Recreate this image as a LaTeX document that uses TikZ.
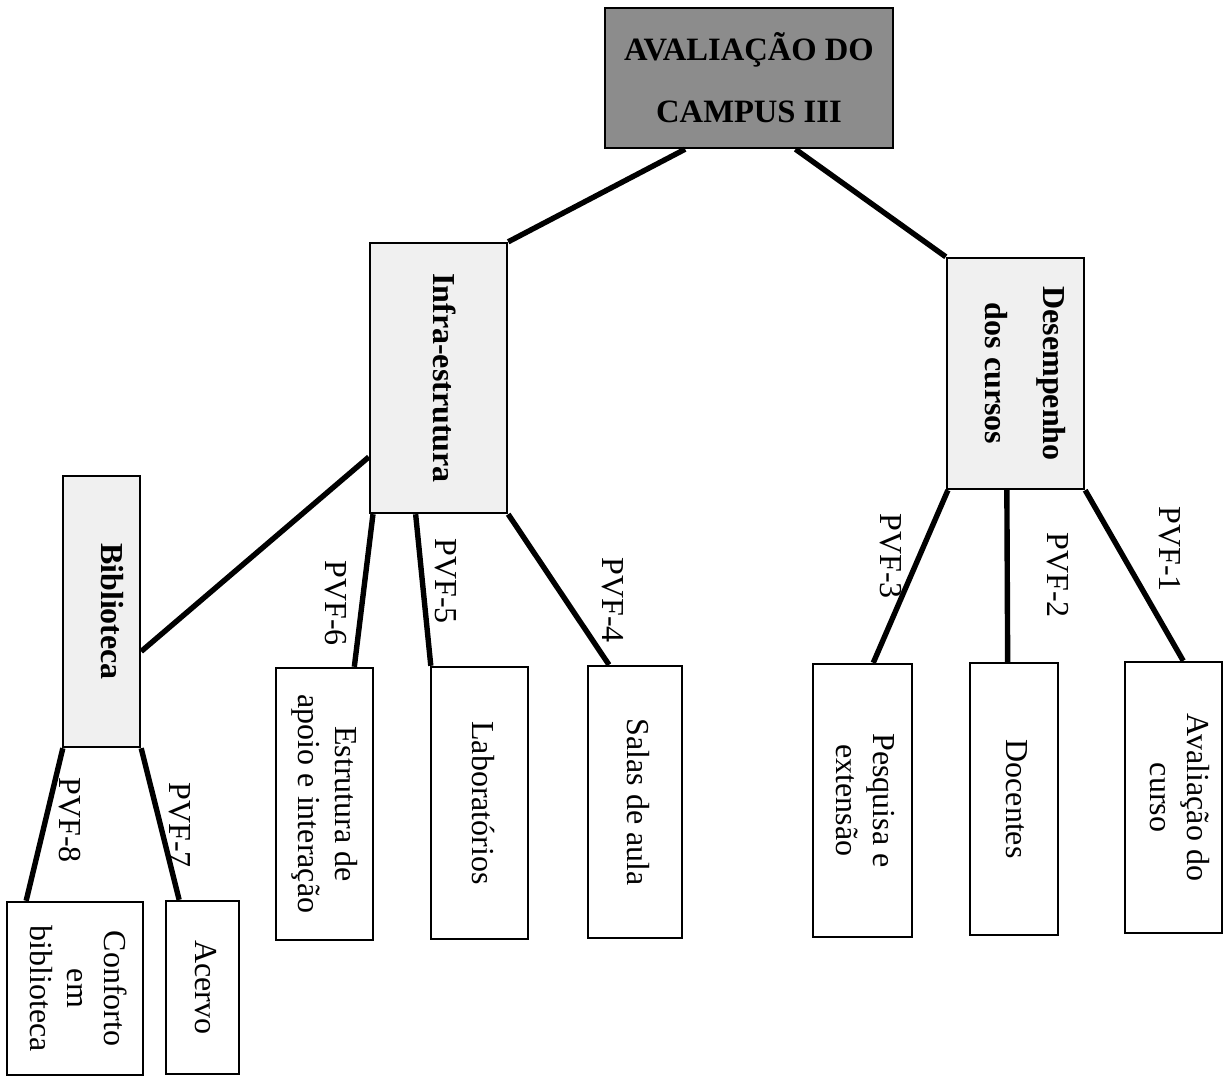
\documentclass[tikz,border=0pt]{standalone}
\usepackage{fontspec}
\setmainfont{Liberation Serif}
\usepackage{graphicx}
\usetikzlibrary{calc}
\newcommand{\rtxt}[1]{\rotatebox{-90}{\begin{tabular}{@{}c@{}}#1\end{tabular}}}
\begin{document}
\begin{tikzpicture}[x=0.5pt,y=-0.5pt,
  boxbase/.style={draw=black, line width=1.2pt, inner sep=0pt, rectangle},
  rootbox/.style={boxbase, fill=black!45, font=\bfseries\fontsize{16.3}{30}\selectfont, align=center},
  midbox/.style={boxbase, fill=black!6, font=\bfseries\fontsize{16}{29}\selectfont},
  leafbox/.style={boxbase, fill=white, font=\fontsize{16}{18.5}\selectfont},
  conn/.style={line width=2.7pt},
  pvf/.style={rotate=-90, font=\fontsize{16}{18}\selectfont, inner sep=0pt}]
\useasboundingbox (0,0) rectangle (1228,1078);

% root
\node[rootbox, minimum width=144pt, minimum height=70pt] (root) at (749,78)
  {\raisebox{1pt}{AVALIAÇÃO DO}\\CAMPUS III};

% second level
\node[midbox, minimum width=68.5pt, minimum height=135pt] (infra) at (438.5,378)
  {\hspace*{3.5pt}\rtxt{Infra-estrutura}\hspace*{-3.5pt}};
\node[midbox, minimum width=68.5pt, minimum height=115.5pt] (desemp) at (1015.5,373.5)
  {\hspace*{5.5pt}\rtxt{Desempenho\\dos cursos}\hspace*{-5.5pt}};
\node[midbox, minimum width=38.5pt, minimum height=135.5pt] (biblio) at (101.5,611.5)
  {\hspace*{6pt}\rtxt{Biblioteca}\hspace*{-6pt}};

% leaves
\node[leafbox, minimum width=48.5pt, minimum height=136pt] (estr) at (324.5,804)
  {\rtxt{Estrutura de\\apoio e interação}};
\node[leafbox, minimum width=48.5pt, minimum height=136pt] (lab) at (479.5,803)
  {\rtxt{Laboratórios}};
\node[leafbox, minimum width=47pt, minimum height=136pt] (salas) at (635,802)
  {\rtxt{Salas de aula}};
\node[leafbox, minimum width=49.5pt, minimum height=136.5pt] (pesq) at (862.5,800.5)
  {\rtxt{Pesquisa e\\extensão}};
\node[leafbox, minimum width=44pt, minimum height=136pt] (doc) at (1014,799)
  {\rtxt{Docentes}};
\node[leafbox, minimum width=48.5pt, minimum height=135.5pt] (aval) at (1173.5,797.5)
  {\hspace*{1.5pt}\rtxt{Avaliação do\\curso}\hspace*{-1.5pt}};
\node[leafbox, minimum width=68pt, minimum height=86.5pt] (conf) at (75,988.5)
  {\rtxt{Conforto\\em\\biblioteca}};
\node[leafbox, minimum width=36.5pt, minimum height=86.5pt] (acervo) at (202.5,987.5)
  {\rtxt{Acervo}};

% connectors
\draw[conn] ($(root.south west)!0.28!(root.south east)$) -- (infra.north east);
\draw[conn] ($(root.south west)!0.66!(root.south east)$) -- (desemp.north west);
\draw[conn] ($(infra.north west)!0.79!(infra.south west)$) -- ($(biblio.north east)!0.646!(biblio.south east)$);

\draw[conn] ($(infra.south west)!0.03!(infra.south east)$) -- ($(estr.north west)!0.80!(estr.north east)$);
\draw[conn] ($(infra.south west)!0.336!(infra.south east)$) -- ($(lab.north west)!0.01!(lab.north east)$);
\draw[conn] (infra.south east) -- ($(salas.north west)!0.23!(salas.north east)$);

\draw[conn] ($(desemp.south west)!0.015!(desemp.south east)$) -- ($(pesq.north west)!0.606!(pesq.north east)$);
\draw[conn] ($(desemp.south west)!0.438!(desemp.south east)$) -- ($(doc.north west)!0.43!(doc.north east)$);
\draw[conn] (desemp.south east) -- ($(aval.north west)!0.598!(aval.north east)$);

\draw[conn] ($(biblio.south west)!0.013!(biblio.south east)$) -- ($(conf.north west)!0.147!(conf.north east)$);
\draw[conn] (biblio.south east) -- ($(acervo.north west)!0.19!(acervo.north east)$);

% labels
\node[pvf] (l6) at (336,603) {PVF-6};
\node[pvf] (l5) at (446,581) {PVF-5};
\node[pvf] (l4) at (613,600) {PVF-4};
\node[pvf] (l3) at (891,556) {PVF-3};
\node[pvf] (l2) at (1058,575) {PVF-2};
\node[pvf] (l1) at (1170,549) {PVF-1};
\node[pvf] (l8) at (70,820) {PVF-8};
\node[pvf] (l7) at (180,825) {PVF-7};
\end{tikzpicture}
\end{document}
